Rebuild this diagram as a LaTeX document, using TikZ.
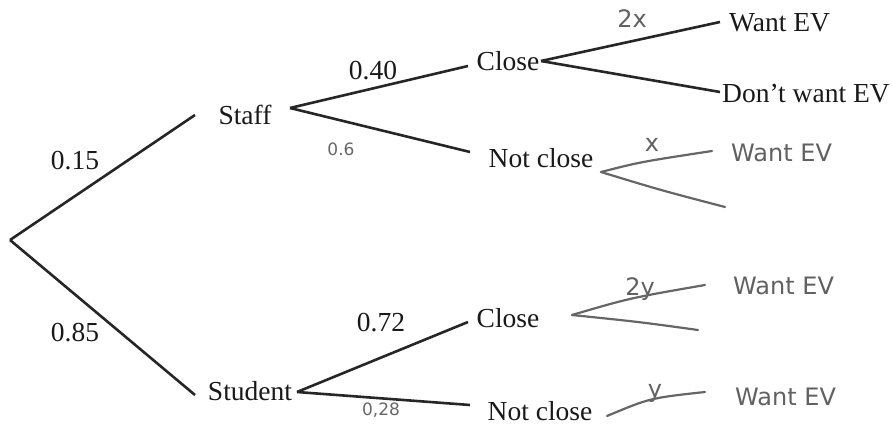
\documentclass[tikz,border=0pt]{standalone}
\usepackage{fontspec}
\setmainfont{Liberation Serif}
\newfontfamily\handfont{DejaVu Sans}
\begin{document}
\begin{tikzpicture}[x=1pt,y=-1pt,
  branch/.style={line width=2.6pt,draw=black!85},
  hand/.style={line width=2.2pt,draw=black!60,line cap=round},
  lbl/.style={font=\fontsize{27.5}{31}\selectfont,inner sep=0pt,text=black!90},
  hlbl/.style={font=\handfont\fontsize{24}{28}\selectfont,inner sep=0pt,text=black!62},
  hnum/.style={font=\handfont\fontsize{17}{20}\selectfont,inner sep=0pt,text=black!60}]
\useasboundingbox (0,0) rectangle (892,428);
% coordinates
\coordinate (root) at (10,240);
\coordinate (staffin) at (195,115);
\coordinate (studin) at (195,395);
\coordinate (staffout) at (290,108);
\coordinate (studout) at (297,392);
\coordinate (c1in) at (468,66);
\coordinate (n1in) at (470,152);
\coordinate (c2in) at (468,322);
\coordinate (n2in) at (470,405);
\coordinate (c1out) at (541,61);
\coordinate (w1in) at (720,22);
\coordinate (d1in) at (720,92);
% text nodes
\node[lbl] (staff) at (245,115) {Staff};
\node[lbl] (student) at (250,391) {Student};
\node[lbl] (close1) at (508,61) {Close};
\node[lbl] (nclose1) at (541,158) {Not close};
\node[lbl] (close2) at (508,318) {Close};
\node[lbl] (nclose2) at (540,411) {Not close};
\node[lbl,anchor=west] (want1) at (729,23) {Want EV};
\node[lbl,anchor=west] (dont1) at (722,94) {Don't want EV};
\node[lbl] (p15) at (75,161) {0.15};
\node[lbl] (p85) at (75,333) {0.85};
\node[lbl] (p40) at (373,71) {0.40};
\node[lbl] (p72) at (381,323) {0.72};
% main branches
\draw[branch] (root) -- (staffin);
\draw[branch] (root) -- (studin);
\draw[branch] (staffout) -- (c1in);
\draw[branch] (staffout) -- (n1in);
\draw[branch] (studout) -- (c2in);
\draw[branch] (studout) -- (n2in);
\draw[branch] (c1out) -- (w1in);
\draw[branch] (c1out) -- (d1in);
% handwritten additions
\node[hnum] (h06) at (341,149) {0.6};
\node[hnum] (h28) at (381,410) {0,28};
\node[hlbl] (h2x) at (632,19) {2x};
\node[hlbl] (hx) at (652,145) {x};
\node[hlbl] (h2y) at (640,289) {2y};
\node[hlbl] (hy) at (655,393) {y};
\node[hlbl,anchor=west] (hw1) at (731,153) {Want EV};
\node[hlbl,anchor=west] (hw2) at (733,286) {Want EV};
\node[hlbl,anchor=west] (hw3) at (735,397) {Want EV};
\coordinate (hn1) at (601,172);
\coordinate (hn1a) at (712,151);
\coordinate (hn1b) at (725,207);
\coordinate (hc2) at (572,315);
\coordinate (hc2a) at (705,285);
\coordinate (hc2b) at (698,330);
\coordinate (hn2) at (607,416);
\coordinate (hn2a) at (705,392);
\draw[hand] (hn1) .. controls (640,162) .. (hn1a);
\draw[hand] (hn1) .. controls (660,190) .. (hn1b);
\draw[hand] (hc2) .. controls (630,298) .. (hc2a);
\draw[hand] (hc2) .. controls (640,322) .. (hc2b);
\draw[hand] (hn2) .. controls (650,398) .. (hn2a);
\end{tikzpicture}
\end{document}
